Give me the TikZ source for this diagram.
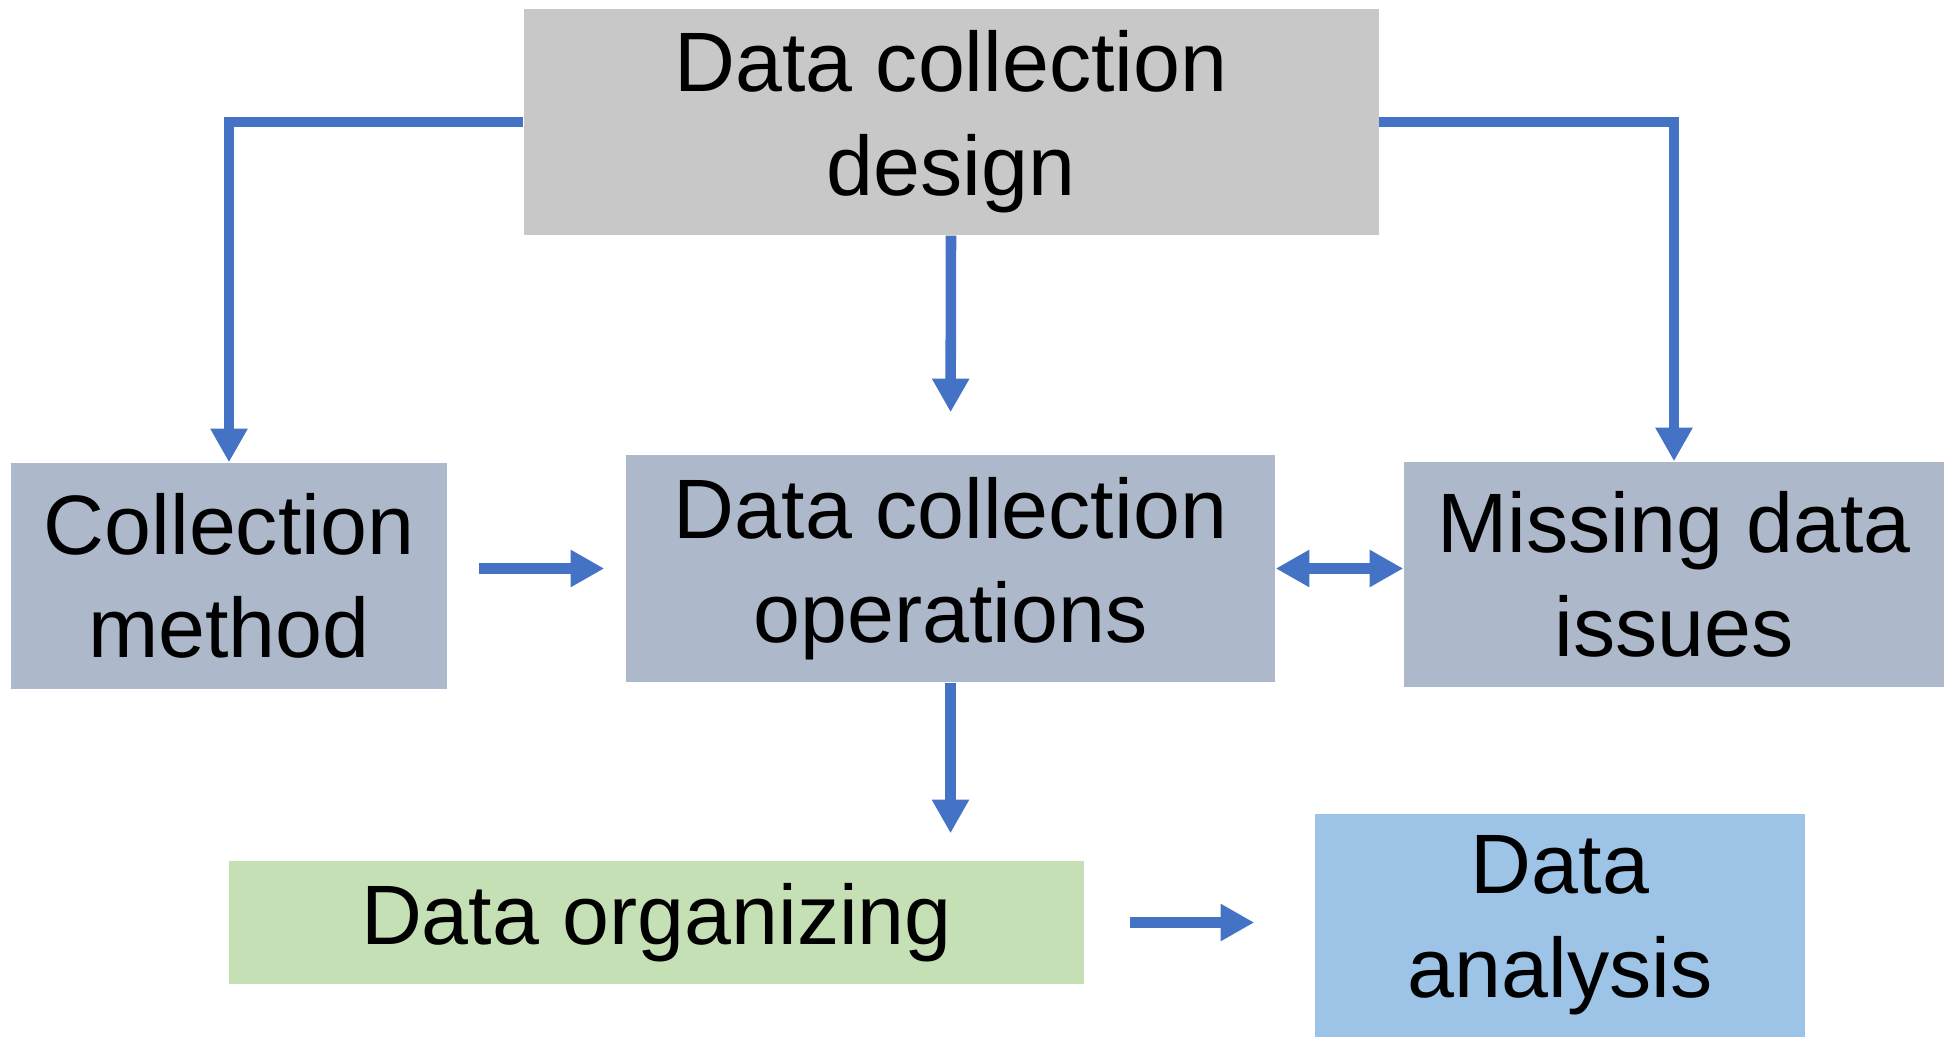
\documentclass[tikz,border=0pt]{standalone}
\usepackage{fontspec}
\setmainfont{Liberation Sans}
\usetikzlibrary{arrows.meta}
\definecolor{topgray}{HTML}{C8C8C8}
\definecolor{slate}{HTML}{ADB9CA}
\definecolor{lightgreen}{HTML}{C5E0B4}
\definecolor{lightblue}{HTML}{9DC3E6}
\definecolor{arrowblue}{HTML}{4472C4}
\tikzset{
  blk/.style={inner sep=0pt, align=center, text=black,
    font=\fontsize{24}{29.5}\selectfont},
  arr/.style={draw=arrowblue, line width=3pt,
    -{Triangle[width=10pt,length=9.6pt]}},
  darr/.style={draw=arrowblue, line width=3pt,
    {Triangle[width=10pt,length=9.6pt]}-{Triangle[width=10pt,length=9.6pt]}},
}
\begin{document}
\begin{tikzpicture}
    \useasboundingbox (0,0) rectangle (19.51,-10.37);
    % boxes
    \node[blk, fill=topgray, minimum width=8.55cm, minimum height=2.26cm] (design) at (9.51,-1.22) {Data collection\\design};
    \node[blk, fill=slate, minimum width=4.36cm, minimum height=2.26cm] (method) at (2.29,-5.76) {Collection\\method};
    \node[blk, fill=slate, minimum width=6.49cm, minimum height=2.27cm] (ops) at (9.505,-5.685) {Data collection\\operations};
    \node[blk, fill=slate, minimum width=5.40cm, minimum height=2.25cm] (missing) at (16.74,-5.745) {Missing data\\issues};
    \node[blk, fill=lightgreen, minimum width=8.55cm, minimum height=1.23cm] (organizing) at (6.565,-9.225) {Data organizing};
    \node[blk, fill=lightblue, minimum width=4.9cm, minimum height=2.23cm] (analysis) at (15.6,-9.255) {Data\\analysis};
    % connectors
    \draw[arr] (design.west) -| (method.north);
    \draw[arr] (design.east) -| (missing.north);
    \draw[arr, shorten >=0.42cm] (design.south) -- (ops.north);
    \draw[arr, shorten <=0.31cm, shorten >=0.21cm] (method.east |- ops.west) -- (ops.west);
    \draw[darr] (ops.east) -- (missing.west |- ops.east);
    \draw[arr, shorten >=0.27cm] (ops.south) -- (ops.south |- organizing.north);
    \draw[arr, shorten <=0.45cm, shorten >=0.6cm] (organizing.east) -- (analysis.west |- organizing.east);
\end{tikzpicture}
\end{document}
